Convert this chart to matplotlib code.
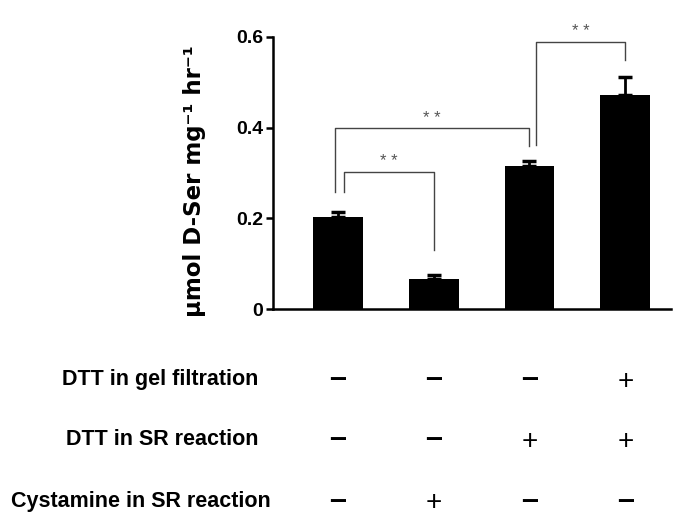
import matplotlib
matplotlib.use("Agg")
import matplotlib.pyplot as plt
import numpy as np

plt.rcParams['font.family'] = ['Liberation Sans', 'DejaVu Sans']

# Data
conditions = ["A", "B", "C", "D"]
values = [0.204, 0.067, 0.316, 0.472]
errors = [0.010, 0.009, 0.011, 0.039]
yticks = [0, 0.2, 0.4, 0.6]
ytick_labels = ["0", "0.2", "0.4", "0.6"]
row_labels = ["DTT in gel filtration", "DTT in SR reaction", "Cystamine in SR reaction"]
row_dtt_gel = ["\u2013", "\u2013", "\u2013", "+"]
row_dtt_sr = ["\u2013", "\u2013", "+", "+"]
row_cystamine = ["\u2013", "+", "\u2013", "\u2013"]
# brackets: (left bar, right bar, top, left leg bottom, right leg bottom, left offset, right offset)
brackets = [
    (0, 1, 0.303, 0.259, 0.130, 0.06, 0.0),
    (0, 2, 0.399, 0.259, 0.360, -0.03, 0.0),
    (2, 3, 0.589, 0.362, 0.549, 0.07, 0.0),
]
sig_labels = ["* *", "* *", "* *"]

fig = plt.figure(figsize=(6.85, 5.24), dpi=100)
ax = fig.add_axes([0.398, 0.4097, 0.582, 0.5203])
x = np.arange(len(values))
ax.bar(x, values, width=0.52, color='black', zorder=2)
ax.errorbar(x, values, yerr=[np.zeros(len(errors)), errors], fmt='none',
            ecolor='black', elinewidth=2, capsize=5, capthick=2.5, zorder=3)

ax.set_xlim(-0.68, 3.48)
ax.set_ylim(0, 0.6)
ax.set_yticks(yticks)
ax.set_yticklabels(ytick_labels, fontsize=14, fontweight='bold')
ax.set_xticks([])
for s in ['top', 'right']:
    ax.spines[s].set_visible(False)
ax.spines['left'].set_linewidth(1.8)
ax.spines['bottom'].set_linewidth(1.8)
ax.tick_params(axis='y', length=5, width=1.8, pad=2)
ax.set_ylabel("µmol D-Ser mg\u207b\u00b9 hr\u207b\u00b9", fontsize=16.5, fontweight='bold',
              family='DejaVu Sans')
ax.yaxis.set_label_coords(-0.168, 0.47)

for (i, j, top, lb, rb, lo, ro), lab in zip(brackets, sig_labels):
    xl = x[i] + lo
    xr = x[j] + ro
    ax.plot([xl, xl, xr, xr], [lb, top, top, rb], color='#444444', lw=1.0, clip_on=False, zorder=4)
    ax.text((xl + xr) / 2, top + 0.022, lab, ha='center', va='center', fontsize=12,
            color='#555555', clip_on=False)

rows = [row_dtt_gel, row_dtt_sr, row_cystamine]
row_y = [-0.154, -0.286, -0.422]
label_right = [-0.83, -0.83, -0.70]
for lab, signs, yy, xr in zip(row_labels, rows, row_y, label_right):
    ax.text(xr, yy, lab, ha='right', va='center', fontsize=15.5, fontweight='bold', clip_on=False)
    for xi, s in zip(x, signs):
        if s == "+":
            ax.text(xi, yy - 0.005, s, ha='center', va='center', fontsize=20, clip_on=False)
        else:
            ax.text(xi, yy, s, ha='center', va='center', fontsize=22, fontweight='bold', clip_on=False)

fig.savefig("out.png", dpi=100)
